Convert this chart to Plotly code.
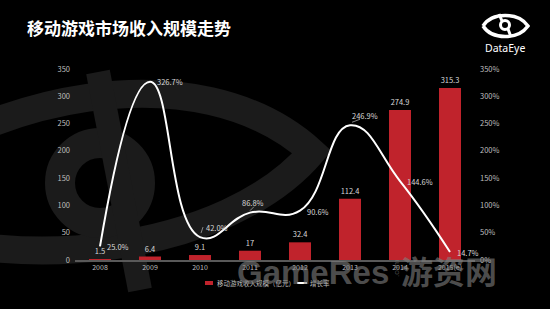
import plotly.graph_objects as go

years = ["2008", "2009", "2010", "2011", "2012", "2013", "2014", "2015(e)"]
revenue = [1.5, 6.4, 9.1, 17, 32.4, 112.4, 274.9, 315.3]
revenue_labels = ["1.5", "6.4", "9.1", "17", "32.4", "112.4", "274.9", "315.3"]
growth = [25.0, 326.7, 42.0, 86.8, 90.6, 246.9, 144.6, 14.7]
growth_labels = ["25.0%", "326.7%", "42.0%", "86.8%", "90.6%", "246.9%", "144.6%", "14.7%"]
left_ticks = [0, 50, 100, 150, 200, 250, 300, 350]
right_ticks = [0, 50, 100, 150, 200, 250, 300, 350]
right_tick_text = ["0%", "50%", "100%", "150%", "200%", "250%", "300%", "350%"]
legend_names = ["移动游戏收入规模（亿元）", "增长率"]

W, H = 550, 309
L, R, T, B = 75, 75, 69, 49
PW, PH = W - L - R, H - T - B
YMAX = 350.0


def px(x, y):
    return (x - L) / PW, (H - B - y) / PH


def path(cmds):
    out = []
    for c in cmds:
        if isinstance(c, str):
            out.append(c)
        else:
            xx, yy = px(*c)
            out.append(f"{xx:.5f},{yy:.5f}")
    return " ".join(out)


FONT = "Noto Sans CJK SC"
LBL = "#d9d9d9"
TICK = "#bfbfbf"
RED = "#c0232c"

fig = go.Figure()
fig.add_trace(go.Bar(
    x=years, y=revenue, name=legend_names[0],
    marker=dict(color=RED, line=dict(width=0)), width=0.44,
    text=revenue_labels, textposition="outside", cliponaxis=False,
    textfont=dict(size=7.5, color=LBL, family=FONT),
))
fig.add_trace(go.Scatter(
    x=years, y=growth, name=legend_names[1], yaxis="y2", mode="lines",
    line=dict(color="white", width=2, shape="spline", smoothing=1.3),
))

shapes = []
bg = "#1b1b1b"
# background eye
shapes.append(dict(type="path", xref="paper", yref="paper", layer="below",
                   path=path(["M", (-150, 210), "C", (-20, 90), (200, 50), (312, 152),
                              "C", (230, 250), (10, 285), (-150, 210)]),
                   line=dict(color=bg, width=28), fillcolor="rgba(0,0,0,0)"))
x0, y0 = px(100 - 40, 183 - 40)
x1, y1 = px(100 + 40, 183 + 40)
shapes.append(dict(type="circle", xref="paper", yref="paper", layer="below",
                   x0=x0, y0=y1, x1=x1, y1=y0, line=dict(color=bg, width=30)))
shapes.append(dict(type="path", xref="paper", yref="paper", layer="below",
                   path=path(["M", (98, 72), "L", (140, 290)]),
                   line=dict(color=bg, width=24)))
# logo
shapes.append(dict(type="path", xref="paper", yref="paper",
                   path=path(["M", (483, 26), "C", (492, 12), (518, 12), (528, 26),
                              "C", (518, 40), (492, 40), (483, 26)]),
                   line=dict(color="white", width=3.5), fillcolor="rgba(0,0,0,0)"))
cx0, cy0 = px(500.5, 20.5)
cx1, cy1 = px(509.5, 29.5)
shapes.append(dict(type="circle", xref="paper", yref="paper",
                   x0=cx0, y0=cy1, x1=cx1, y1=cy0, line=dict(color="white", width=3)))
shapes.append(dict(type="path", xref="paper", yref="paper",
                   path=path(["M", (499, 14), "L", (502, 21)]), line=dict(color="white", width=3)))
shapes.append(dict(type="path", xref="paper", yref="paper",
                   path=path(["M", (508, 29), "L", (511, 37)]), line=dict(color="white", width=3)))

# leader lines (pixel offsets converted to axis units)
ppx = 1 / 50.0
ppy = YMAX / PH
for i, (a, b, c, d) in [(2, (1, 4, 3, 10)), (3, (0, 2, 4, 6)), (5, (2, 3, 10, 6))]:
    shapes.append(dict(type="line", xref="x", yref="y2",
                       x0=i + a * ppx, y0=growth[i] + b * ppy,
                       x1=i + c * ppx, y1=growth[i] + d * ppy,
                       line=dict(color="#a6a6a6", width=0.8)))

# custom legend
lx0, ly0 = px(205, 281)
lx1, ly1 = px(213, 285)
shapes.append(dict(type="rect", xref="paper", yref="paper", x0=lx0, x1=lx1, y0=ly1, y1=ly0,
                   fillcolor=RED, line=dict(width=0)))
wx0, wy = px(297, 283)
wx1, _ = px(307, 283)
shapes.append(dict(type="line", xref="paper", yref="paper", x0=wx0, x1=wx1, y0=wy, y1=wy,
                   line=dict(color="white", width=2)))

ann = []
offsets = [("left", 5, 0), ("left", 5, 0), ("left", 4, 10), ("center", 3, 10),
           ("left", 5, -1), ("left", 0, 10), ("left", 5, 0), ("left", 5, -1)]
for i, (anc, xs, ys) in enumerate(offsets):
    ann.append(dict(x=i, y=growth[i], xref="x", yref="y2", text=growth_labels[i],
                    showarrow=False, xanchor=anc, yanchor="middle", xshift=xs, yshift=ys,
                    font=dict(size=7.5, color=LBL, family=FONT)))

lt1x, lt1y = px(215, 283)
ann.append(dict(x=lt1x, y=lt1y, xref="paper", yref="paper", text=legend_names[0],
                showarrow=False, xanchor="left", yanchor="middle",
                font=dict(size=6.5, color=TICK, family=FONT)))
lt2x, lt2y = px(308, 283)
ann.append(dict(x=lt2x, y=lt2y, xref="paper", yref="paper", text=legend_names[1],
                showarrow=False, xanchor="left", yanchor="middle",
                font=dict(size=6.5, color=TICK, family=FONT)))

dx, dy = px(505, 48)
ann.append(dict(x=dx, y=dy, xref="paper", yref="paper", text="DataEye",
                showarrow=False, xanchor="center", yanchor="middle",
                font=dict(size=10.5, color="white", family="Noto Sans")))
# watermark
wmc = "rgba(128,128,128,0.6)"
wx, wy = px(313, 272)
ann.append(dict(x=wx, y=wy, xref="paper", yref="paper", text="<b>GameRes</b>", showarrow=False,
                xanchor="center", yanchor="middle",
                font=dict(size=33, color=wmc, family="Liberation Sans")))
wx, wy = px(449, 270)
ann.append(dict(x=wx, y=wy, xref="paper", yref="paper", text="<b>游资网</b>", showarrow=False,
                xanchor="center", yanchor="middle",
                font=dict(size=32, color=wmc, family=FONT)))
wx, wy = px(396, 268)
ann.append(dict(x=wx, y=wy, xref="paper", yref="paper", text=".com", showarrow=False,
                textangle=-90, xanchor="center", yanchor="middle",
                font=dict(size=8, color=wmc, family="Liberation Sans")))

fig.update_layout(
    width=W, height=H, margin=dict(l=L, r=R, t=T, b=B),
    paper_bgcolor="black", plot_bgcolor="rgba(0,0,0,0)",
    title=dict(text="<b>移动游戏市场收入规模走势</b>", x=27 / W, xanchor="left",
               y=1 - 29 / H, yanchor="middle", yref="container",
               font=dict(size=17, color="white", family=FONT)),
    font=dict(family=FONT, color=TICK, size=8),
    showlegend=False,
    xaxis=dict(type="category", range=[-0.5, 7.5], showgrid=False, showline=True,
               linecolor="#595959", linewidth=2, ticks="", tickfont=dict(size=7, color=TICK)),
    yaxis=dict(range=[0, YMAX], tickvals=left_ticks, showgrid=False, zeroline=False,
               showline=False, ticks="", ticklabelstandoff=4,
               tickfont=dict(size=7.5, color=TICK)),
    yaxis2=dict(range=[0, YMAX], tickvals=right_ticks, ticktext=right_tick_text, overlaying="y",
                side="right", showgrid=False, zeroline=False, showline=False, ticks="",
                ticklabelstandoff=4, tickfont=dict(size=7.5, color=TICK)),
    shapes=shapes, annotations=ann, bargap=0.5,
)

fig.write_html("out.html")
